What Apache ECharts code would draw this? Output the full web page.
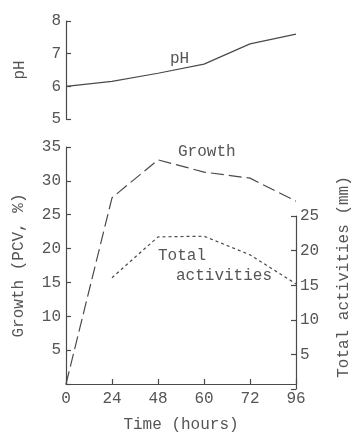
<!DOCTYPE html>
<html><head><meta charset="utf-8">
<script src="https://cdn.jsdelivr.net/npm/echarts@6/dist/echarts.min.js"></script>
<style>html,body{margin:0;padding:0;background:#fff}#c{width:351px;height:438px}</style>
</head><body><div id="c"></div>
<script>
const categories = ['0','24','48','60','72','96'];
const phValues = [6.0, 6.15, 6.4, 6.68, 7.3, 7.6];
const growthValues = [0, 27.5, 33.1, 31.3, 30.4, 27.0];
const activityValues = [null, 16.1, 22.0, 22.1, 19.4, 15.2];
const phTicks = [5, 6, 7, 8];
const growthTicks = [5, 10, 15, 20, 25, 30, 35];
const activityTicks = [5, 10, 15, 20, 25];

const ink = '#4a4a4a';
const txt = '#555';
const font = 'Liberation Mono';
const chart = echarts.init(document.getElementById('c'));
const axisCommon = {
  axisLine: {show: true, lineStyle: {color: ink, width: 1.2}},
  axisTick: {show: true, inside: true, length: 5, lineStyle: {color: ink, width: 1.2}},
  splitLine: {show: false},
  axisLabel: {color: txt, fontFamily: font, fontSize: 16}
};
chart.setOption({
  animation: false,
  backgroundColor: '#fff',
  grid: [
    {left: 66, right: 55, top: 21, height: 98},
    {left: 66, right: 55, top: 147, bottom: 49},
    {left: 66, right: 55, bottom: 49, height: 242 * 25 / 35}
  ],
  xAxis: [
    {gridIndex: 0, type: 'category', data: categories, boundaryGap: false, show: false},
    Object.assign({}, axisCommon, {gridIndex: 1, type: 'category', data: categories, boundaryGap: false,
      axisLabel: {color: txt, fontFamily: font, fontSize: 16, margin: 7},
      name: 'Time (hours)', nameLocation: 'middle', nameGap: 33,
      nameTextStyle: {color: txt, fontFamily: font, fontSize: 16}}),
    {gridIndex: 2, type: 'category', data: categories, boundaryGap: false, show: false}
  ],
  yAxis: [
    Object.assign({}, axisCommon, {gridIndex: 0, type: 'value', min: 5, max: 8, interval: 1,
      axisLabel: {color: txt, fontFamily: font, fontSize: 16, margin: 5,
        formatter: v => phTicks.includes(v) ? String(v) : ''},
      name: 'pH', nameLocation: 'middle', nameGap: 38,
      nameTextStyle: {color: txt, fontFamily: font, fontSize: 16}}),
    Object.assign({}, axisCommon, {gridIndex: 1, type: 'value', min: 0, max: 35, interval: 5,
      axisLabel: {color: txt, fontFamily: font, fontSize: 16, margin: 5,
        formatter: v => growthTicks.includes(v) ? String(v) : ''},
      name: 'Growth (PCV, %)', nameLocation: 'middle', nameGap: 39,
      nameTextStyle: {color: txt, fontFamily: font, fontSize: 16}}),
    Object.assign({}, axisCommon, {gridIndex: 2, type: 'value', position: 'right', min: 0, max: 25, interval: 5,
      axisLabel: {color: txt, fontFamily: font, fontSize: 16, margin: 4,
        formatter: v => activityTicks.includes(v) ? String(v) : ''}})
  ],
  graphic: [
    {type: 'text', left: 170, top: 51, style: {text: 'pH', fill: txt, font: '16px "Liberation Mono"'}},
    {type: 'text', left: 178, top: 144, style: {text: 'Growth', fill: txt, font: '16px "Liberation Mono"'}},
    {type: 'text', left: 158, top: 248, style: {text: 'Total', fill: txt, font: '16px "Liberation Mono"'}},
    {type: 'text', left: 176, top: 268, style: {text: 'activities', fill: txt, font: '16px "Liberation Mono"'}},
    {type: 'text', x: 344, y: 277, rotation: Math.PI / 2,
      style: {text: 'Total activities (mm)', fill: txt, font: '16px "Liberation Mono"', align: 'center', verticalAlign: 'middle'}}
  ],
  series: [
    {type: 'line', xAxisIndex: 0, yAxisIndex: 0, data: phValues, symbol: 'none',
      lineStyle: {color: ink, width: 1.2}},
    {type: 'line', xAxisIndex: 1, yAxisIndex: 1, data: growthValues, symbol: 'none',
      lineStyle: {color: ink, width: 1.2, type: [13, 5]}},
    {type: 'line', xAxisIndex: 2, yAxisIndex: 2, data: activityValues, symbol: 'none',
      lineStyle: {color: ink, width: 1.2, type: [3, 3]}}
  ]
});
</script></body></html>
